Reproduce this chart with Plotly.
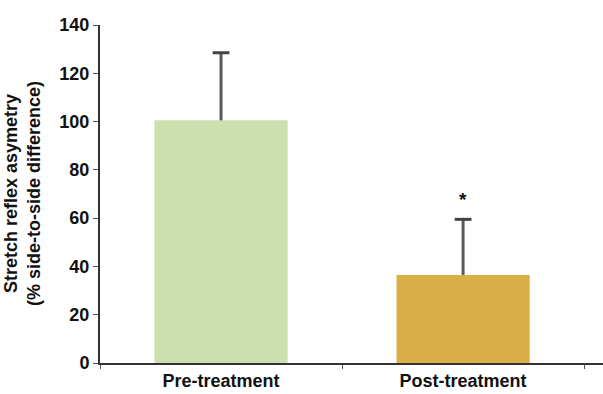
import plotly.graph_objects as go

categories = ["Pre-treatment", "Post-treatment"]
means = [100.5, 36.5]
errors = [28.0, 23.0]
bar_colors = ["#CDDFAF", "#DBAF48"]
sig_labels = ["", "*"]
y_ticks = [0, 20, 40, 60, 80, 100, 120, 140]
y_title = "Stretch reflex asymetry<br>(% side-to-side difference)"

fig = go.Figure()
fig.add_trace(go.Bar(x=categories, y=means, width=0.55,
                     marker=dict(color=bar_colors, line=dict(width=0)),
                     showlegend=False))

# error stems (upper only)
sx, sy = [], []
for c, m, e in zip(categories, means, errors):
    sx += [c, c, None]
    sy += [m, m + e, None]
fig.add_trace(go.Scatter(x=sx, y=sy, mode="lines",
                         line=dict(color="#5a5a5a", width=3),
                         showlegend=False, hoverinfo="skip"))
fig.add_trace(go.Scatter(x=categories, y=[m + e for m, e in zip(means, errors)],
                         mode="markers",
                         marker=dict(symbol="line-ew", size=12,
                                     line=dict(color="#444444", width=3)),
                         showlegend=False, hoverinfo="skip"))

for c, m, e, s in zip(categories, means, errors, sig_labels):
    if s:
        fig.add_annotation(x=c, y=m + e, text="<b>" + s + "</b>", showarrow=False,
                           yshift=20, font=dict(size=19, color="#111111"))

font_family = "Liberation Sans, Arial, sans-serif"
fig.add_annotation(xref="paper", yref="paper", x=0, y=0.5, xanchor="center",
                   yanchor="middle", xshift=-78, textangle=-90, showarrow=False,
                   text="<b>" + y_title + "</b>",
                   font=dict(size=18, family=font_family, color="#111111"))

fig.update_layout(
    width=603, height=394,
    margin=dict(l=100, r=0, t=25, b=31),
    plot_bgcolor="white", paper_bgcolor="white",
    font=dict(family=font_family, color="#111111"),
)
fig.update_xaxes(
    range=[-0.5, 1.578], showline=True, linecolor="#333333", linewidth=2,
    tickson="boundaries", ticks="outside", ticklen=4, tickcolor="#555555",
    tickfont=dict(size=18, family=font_family, color="#111111"),
    showgrid=False, zeroline=False,
    tickvals=categories, ticktext=["<b>" + c + "</b>" for c in categories],
)
fig.update_yaxes(
    range=[0, 140], tickvals=y_ticks, ticktext=["<b>%d</b>" % v for v in y_ticks],
    showline=True, linecolor="#333333", linewidth=2,
    ticks="outside", ticklen=5, tickcolor="#555555",
    tickfont=dict(size=18, family=font_family, color="#111111"),
    showgrid=False, zeroline=False,
)

fig.write_html("out.html", config={"displayModeBar": False},
               post_script="document.body.style.margin='0';document.body.style.overflow='hidden';")
